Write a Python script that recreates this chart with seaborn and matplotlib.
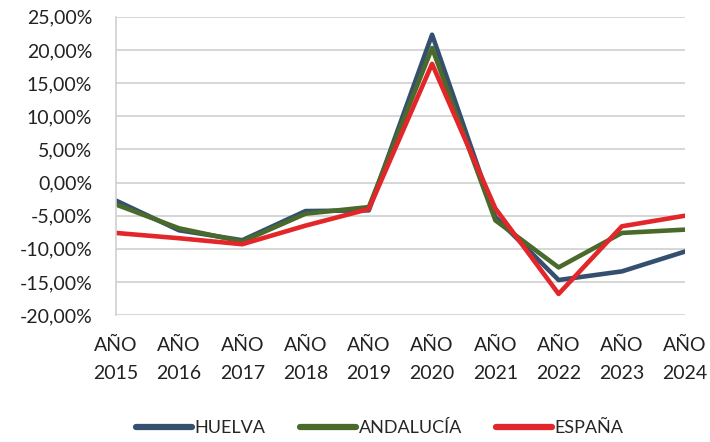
import matplotlib
matplotlib.use("Agg")
import matplotlib.pyplot as plt
import seaborn as sns
import pandas as pd
from matplotlib.ticker import FuncFormatter

years = ["2015", "2016", "2017", "2018", "2019", "2020", "2021", "2022", "2023", "2024"]
huelva = [-2.7, -7.2, -8.7, -4.3, -4.2, 22.3, -5.2, -14.7, -13.4, -10.4]
andalucia = [-3.3, -6.9, -8.9, -4.7, -3.7, 20.3, -5.7, -12.8, -7.6, -7.1]
espana = [-7.6, -8.4, -9.3, -6.5, -4.0, 17.9, -3.9, -16.8, -6.6, -5.0]
series_names = ["HUELVA", "ANDALUCÍA", "ESPAÑA"]
colors = ["#34506E", "#4A6A2C", "#E2262A"]

rows = []
for name, vals in zip(series_names, [huelva, andalucia, espana]):
    for i, (y, v) in enumerate(zip(years, vals)):
        rows.append({"idx": i, "year": y, "serie": name, "valor": v})
df = pd.DataFrame(rows)

sns.set_theme(style="white")
plt.rcParams["font.family"] = ["Lato", "DejaVu Sans"]

fig = plt.figure(figsize=(7.1, 4.42), dpi=100)
ax = fig.add_axes([0.163, 0.287, 0.802, 0.675])
sns.lineplot(data=df, x="idx", y="valor", hue="serie", hue_order=series_names,
             palette=colors, linewidth=3.3, ax=ax, legend=True)

ax.set_xlim(0, 9)
ax.set_ylim(-20, 25)
ax.set_yticks(range(-20, 26, 5))
ax.yaxis.set_major_formatter(FuncFormatter(lambda v, p: f"{v:.2f}%".replace(".", ",")))
ax.set_xticks(range(len(years)))
ax.set_xticklabels([f"AÑO\n{y}" for y in years], linespacing=1.75)
ax.tick_params(axis="both", labelsize=14, colors="#222222", length=0)
ax.tick_params(axis="x", pad=16)
ax.tick_params(axis="y", pad=17)
ax.grid(axis="y", color="#D0D0D0", linewidth=1.2)
ax.grid(axis="x", visible=False)
for s in ["top", "right", "bottom"]:
    ax.spines[s].set_visible(False)
ax.spines["left"].set_color("#D0D0D0")
ax.spines["left"].set_linewidth(1.2)
ax.set_xlabel("")
ax.set_ylabel("")

handles, labels = ax.get_legend_handles_labels()
ax.get_legend().remove()
leg = fig.legend(handles, labels, loc="center", bbox_to_anchor=(0.535, 0.032),
                 ncol=3, frameon=False, fontsize=13, handlelength=3.1, handletextpad=0.15,
                 columnspacing=1.9)
for line in leg.get_lines():
    line.set_linewidth(4.5)
    line.set_solid_capstyle("round")

fig.savefig("out.png", dpi=100)
